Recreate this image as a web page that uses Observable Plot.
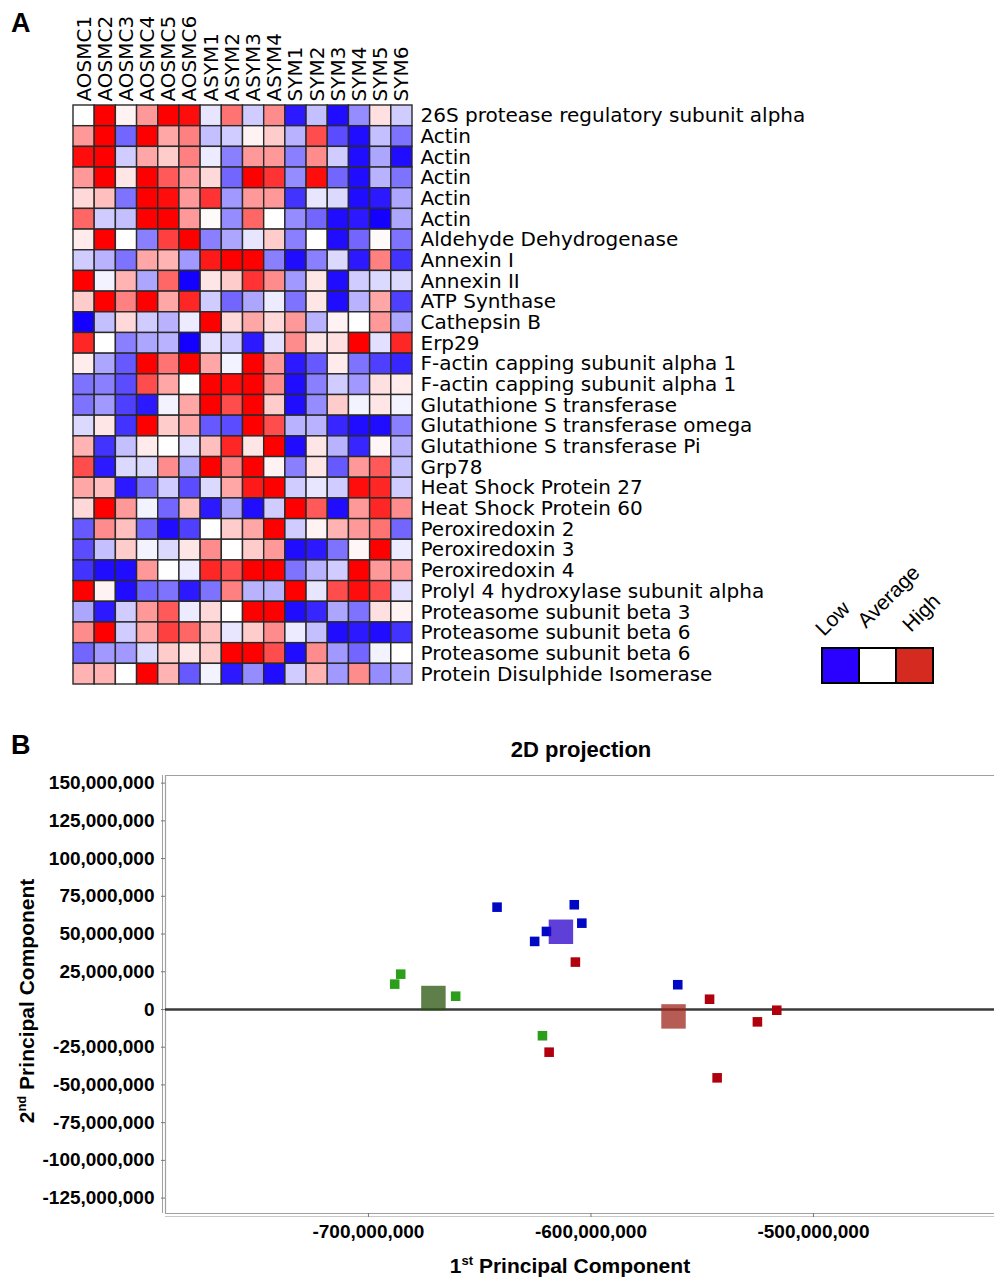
<!DOCTYPE html>
<html><head><meta charset="utf-8">
<script src="https://cdn.jsdelivr.net/npm/d3@7"></script>
<script src="https://cdn.jsdelivr.net/npm/@observablehq/plot@0.6"></script>
<style>
body{margin:0;background:#fff;}
#page{position:relative;width:994px;height:1277px;overflow:hidden;background:#fff;}
#page svg{position:absolute;left:0;}
</style></head><body><div id="page"></div>
<script>
// ---------- Heatmap data ----------
const samples = ["AOSMC1","AOSMC2","AOSMC3","AOSMC4","AOSMC5","AOSMC6","ASYM1","ASYM2","ASYM3","ASYM4","SYM1","SYM2","SYM3","SYM4","SYM5","SYM6"];
const proteins = [
  "26S protease regulatory subunit alpha","Actin","Actin","Actin","Actin","Actin",
  "Aldehyde Dehydrogenase","Annexin I","Annexin II","ATP Synthase","Cathepsin B","Erp29",
  "F-actin capping subunit alpha 1","F-actin capping subunit alpha 1","Glutathione S transferase",
  "Glutathione S transferase omega","Glutathione S transferase Pi","Grp78","Heat Shock Protein 27",
  "Heat Shock Protein 60","Peroxiredoxin 2","Peroxiredoxin 3","Peroxiredoxin 4",
  "Prolyl 4 hydroxylase subunit alpha","Proteasome subunit beta 3","Proteasome subunit beta 6",
  "Proteasome subunit beta 6","Protein Disulphide Isomerase"
];
// relative expression (-1 low, 0 average, 1 high), one row per protein, one column per sample
const expr = [
  [0, 1, 0.05, 0.4, 1, 0.95, -0.1, 0.55, -0.2, 0.45, -0.9, -0.25, -0.95, -0.45, 0.12, -0.2],
  [0.4, 1, -0.6, 1, 0.35, 0.5, -0.25, -0.2, 0.05, 0.2, -0.3, 0.7, -0.7, -0.95, -0.25, -0.55],
  [0.95, 1, -0.2, 0.35, 0.2, 0.5, -0.08, -0.5, 0.4, 0.4, -0.5, 0.45, -0.2, -0.95, -0.35, -0.95],
  [0.4, 1, 0.1, 1, 0.65, 0.4, 0.15, -0.6, 1, 0.8, -0.45, 0.95, -0.6, -0.95, -0.3, -0.55],
  [0.15, 0.25, -0.55, 1, 0.95, 0.4, 0.8, -0.4, 0.4, 0.4, -0.8, -0.1, -0.15, -0.95, -0.9, -0.35],
  [0.6, -0.2, -0.25, 1, 1, 0.4, 0.02, -0.45, 0.6, 0, -0.45, -0.6, -0.95, -0.9, -1, -0.35],
  [0.08, 1, 0, -0.5, 0.75, 1, -0.5, -0.35, -0.1, 0.2, -0.5, 0, -0.95, -0.6, 0.02, -0.55],
  [-0.2, -0.3, -0.55, 0.35, 0.3, -0.4, 0.9, 1, 1, -0.5, -0.95, -0.5, -0.15, -0.9, 0.5, -0.8],
  [1, -0.05, 0.3, -0.35, 0.6, -1, 0.1, 0.2, 0.8, 0.45, -0.4, 0.1, -0.95, -0.2, -0.15, -0.15],
  [0.2, 1, 0.5, 1, 0.35, 0.85, -0.2, -0.6, -0.35, -0.08, -0.55, 0.1, -0.95, -0.3, 0.35, -0.75],
  [-1, -0.25, 0.15, -0.2, -0.3, -0.08, 1, 0.15, 0.35, 0.15, 0.4, -0.3, 0.05, 0, 0.4, -0.35],
  [0.85, 0, -0.5, -0.35, -0.3, -1, -0.12, -0.2, -0.9, -0.12, 0.45, 0.1, 0.12, 1, -0.12, 0.85],
  [0.07, -0.35, -0.65, 1, 0.55, 1, 0.35, -0.05, 1, 0.4, -0.9, -0.65, 0.08, -0.55, -0.75, -0.85],
  [-0.55, -0.5, -0.7, 0.7, 0.35, 0, 1, 0.95, 1, 0.45, -0.95, -0.5, -0.2, -0.4, 0.12, 0.08],
  [-0.55, -0.4, -0.75, -0.9, -0.05, 0.35, 1, 0.7, 1, 0.2, -0.95, -0.45, 0.2, -0.05, 0.1, -0.05],
  [-0.15, 0.1, -0.8, 1, 0.2, 0.35, -0.65, -0.7, 1, 0.7, -0.3, -0.3, -0.85, -0.95, -0.95, -0.5],
  [0.3, -0.8, -0.25, 0.08, 0, -0.12, 0.25, 0.85, 0.1, 1, -0.95, 0.1, -0.3, -0.85, 0.03, -0.3],
  [0.7, -0.9, -0.15, -0.15, 0.45, -0.35, 1, 0.5, 1, 0.05, -0.5, 0.1, -0.65, 0.4, 0.65, -0.25],
  [0.35, 0.25, -0.9, -0.55, -0.2, -0.7, -0.15, 0.35, 0.9, 1, -0.2, -0.1, -0.2, 0.95, 0.85, -0.2],
  [0.15, 1, 0.4, -0.05, -0.6, 0.25, -0.9, -0.35, -0.95, -0.2, 1, 0.65, -0.95, 0.4, 0.85, 0.45],
  [-0.65, 0.45, 0.25, -0.6, -0.95, -0.75, 0, 0.2, 0.35, 1, -0.2, 0.05, 0.3, 0.4, 0.55, -0.6],
  [-0.7, -0.25, 0.2, -0.05, -0.15, 0.1, 0.45, 0, 0.2, 0.4, -0.95, -0.9, -0.55, 0.03, 1, -0.08],
  [-0.8, -0.95, -0.95, 0.4, 0, -0.08, 0.85, 0.7, 1, 1, -0.55, -0.3, -0.2, 1, 0.4, 0.4],
  [1, 0.05, -0.95, -0.6, -0.55, -0.9, -0.55, 0.5, -0.3, -0.3, 1, -0.1, 0.7, 0.95, 0.7, -0.12],
  [-0.35, -0.9, -0.2, 0.4, 0.65, -0.08, 0.15, 0, 1, 1, -0.95, -0.85, -0.35, -0.55, 0.12, 0.05],
  [0.45, 1, -0.2, 0.35, 0.75, 0.6, 0.25, -0.1, 0.2, 0.45, -0.08, -0.25, -0.95, -0.9, -0.95, -0.8],
  [-0.6, -0.4, -0.4, -0.15, 0.2, 0.1, 0.2, 1, 1, 0.7, -0.95, 0.45, -0.4, -0.6, -0.05, 0],
  [0.3, 0.3, 0, 1, 0.3, -0.65, -0.05, -0.9, -0.45, -0.95, -0.2, 0.3, -0.4, 0.45, -0.45, -0.35]
];
const legendLabels = ["Low","Average","High"];
const legendColors = ["#2a00ff","#ffffff","#d42a20"];

// ---------- PCA data (values in units) ----------
const blueX = [-642.2e6, -607.5e6, -604.1e6, -620.0e6, -625.3e6, -561.0e6];
const blueY = [67.8e6, 69.4e6, 57.2e6, 51.7e6, 45.1e6, 16.4e6];
const greenX = [-685.5e6, -688.2e6, -660.8e6, -621.8e6];
const greenY = [23.4e6, 16.8e6, 8.8e6, -17.4e6];
const redX = [-607.0e6, -618.8e6, -546.7e6, -516.5e6, -525.2e6, -543.3e6];
const redY = [31.4e6, -28.3e6, 6.8e6, -0.5e6, -8.2e6, -45.3e6];
const centroidX = [-613.5e6, -670.8e6, -562.9e6];
const centroidY = [51.5e6, 7.6e6, -4.6e6];
const groupColors = ["#0008c4", "#2c9e1c", "#b0000e"];
const centroidColors = ["#2800cb", "#2a540e", "#9e261b"];
const yTicks = [150e6,125e6,100e6,75e6,50e6,25e6,0,-25e6,-50e6,-75e6,-100e6,-125e6];
const xTicks = [-700e6,-600e6,-500e6];

// ---------- build tables ----------
const cells = [];
expr.forEach((row, i) => row.forEach((v, j) => cells.push({row: i, sample: samples[j], value: v})));
const pts = [];
[[blueX,blueY],[greenX,greenY],[redX,redY]].forEach(([xs,ys],g) => xs.forEach((x,k)=>pts.push({x, y: ys[k], g})));
const cents = centroidX.map((x,g)=>({x, y: centroidY[g], g}));

const page = document.getElementById("page");

// ---------- heatmap ----------
const heat = Plot.plot({
  width: 994, height: 700,
  marginTop: 105, marginLeft: 73, marginRight: 582, marginBottom: 16,
  style: {fontFamily: "DejaVu Sans", fontSize: "20px", color: "#000", background: "transparent"},
  x: {type: "band", domain: samples, padding: 0, round: false},
  y: {type: "band", domain: d3.range(proteins.length), padding: 0, round: false},
  color: {type: "linear", domain: [-1, 0, 1], range: ["#1400ff", "#ffffff", "#ff0000"]},
  marks: [
    Plot.cell(cells, {x: "sample", y: "row", fill: "value", stroke: "#2a2a2a", strokeWidth: 1.4}),
    Plot.axisX({anchor: "top", tickRotate: -90, tickSize: 0, tickPadding: 4, label: null, fill: "#000"}),
    Plot.axisY({anchor: "right", tickSize: 0, tickPadding: 8, label: null, tickFormat: i => proteins[i], fill: "#000"})
  ]
});
heat.style.top = "0px";
page.appendChild(heat);

// ---------- PCA ----------
const fmt = d => d3.format(",")(d).replace("\u2212", "-");
const xDom = [-791.2e6, -418.65e6], yDom = [-135.2e6, 155.05e6];
const pca = Plot.plot({
  width: 994, height: 517,
  marginTop: 15, marginBottom: 64, marginLeft: 165, marginRight: 0,
  style: {fontFamily: "Liberation Sans", fontSize: "19px", fontWeight: "bold", color: "#000", background: "transparent"},
  x: {domain: xDom},
  y: {domain: yDom},
  marks: [
    Plot.ruleY([yDom[1]], {stroke: "#a0a0a0", strokeWidth: 1.2}),
    Plot.ruleY([yDom[0]], {stroke: "#a0a0a0", strokeWidth: 1.2}),
    Plot.ruleY([yDom[0]], {stroke: "#c8c8c8", strokeWidth: 1, dy: 3}),
    Plot.ruleX([xDom[0]], {stroke: "#a0a0a0", strokeWidth: 1.2}),
    Plot.ruleX([xDom[0]], {stroke: "#a0a0a0", strokeWidth: 1, dx: -3}),
    Plot.ruleY([0], {stroke: "#3a3a3a", strokeWidth: 2.6}),
    Plot.dot(pts, {x: "x", y: "y", symbol: "square", r: 5.4, fill: d => groupColors[d.g], stroke: "none"}),
    Plot.dot(cents, {x: "x", y: "y", symbol: "square", r: 13.8, fill: d => centroidColors[d.g], fillOpacity: 0.75, stroke: "none"}),
    Plot.axisY({ticks: yTicks, tickFormat: fmt, tickSize: 4, tickPadding: 7, label: null, stroke: "#777"}),
    Plot.axisX({ticks: xTicks, tickFormat: fmt, tickSize: 4, tickPadding: 7, label: null, stroke: "#777"})
  ]
});
pca.style.top = "760px";
page.appendChild(pca);

// ---------- overlay texts & legend ----------
const ov = d3.select(page).append("svg").attr("width", 994).attr("height", 1277)
  .style("top", "0px").style("pointer-events", "none")
  .style("font-family", "Liberation Sans, Arial, sans-serif");
ov.append("text").attr("x", 11).attr("y", 32).attr("font-size", 27).attr("font-weight", "bold").text("A");
ov.append("text").attr("x", 11).attr("y", 754).attr("font-size", 27).attr("font-weight", "bold").text("B");

// legend
const lx = 822, ly = 648, lw = 37, lh = 35;
legendColors.forEach((c, i) => {
  ov.append("rect").attr("x", lx + i * lw).attr("y", ly).attr("width", lw).attr("height", lh)
    .attr("fill", c).attr("stroke", "#000").attr("stroke-width", 2);
});
const legPos = [[824, 637], [866, 629], [911, 633]];
legendLabels.forEach((t, i) => {
  ov.append("text").attr("transform", `translate(${legPos[i][0]},${legPos[i][1]}) rotate(-45)`)
    .attr("font-size", 21).text(t);
});

// PCA title & axis labels
ov.append("text").attr("x", 581).attr("y", 757).attr("text-anchor", "middle")
  .attr("font-size", 22).attr("font-weight", "bold").text("2D projection");
const xl = ov.append("text").attr("x", 570).attr("y", 1273).attr("text-anchor", "middle")
  .attr("font-size", 21).attr("font-weight", "bold");
xl.append("tspan").text("1");
xl.append("tspan").attr("font-size", 13).attr("dy", -8).text("st");
xl.append("tspan").attr("dy", 8).text(" Principal Component");
const yl = ov.append("text").attr("transform", "translate(34,1001) rotate(-90)").attr("text-anchor", "middle")
  .attr("font-size", 21).attr("font-weight", "bold");
yl.append("tspan").text("2");
yl.append("tspan").attr("font-size", 13).attr("dy", -8).text("nd");
yl.append("tspan").attr("dy", 8).text(" Principal Component");
</script>
</body></html>
